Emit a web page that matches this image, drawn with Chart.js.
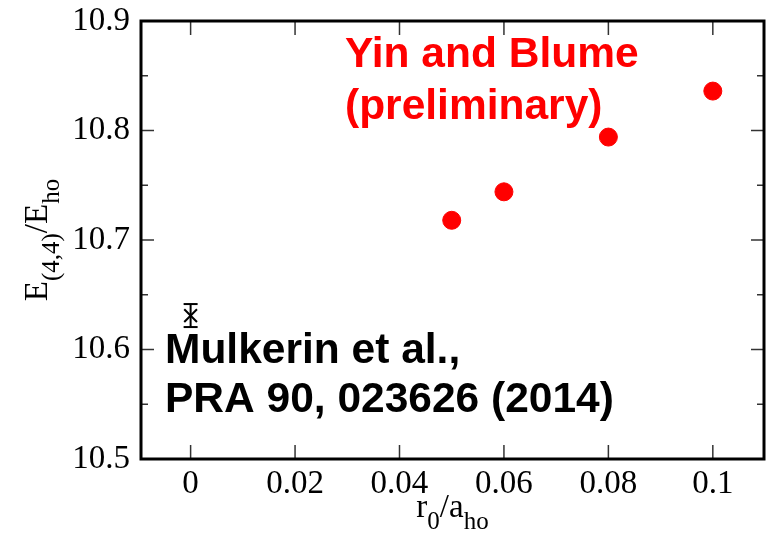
<!DOCTYPE html>
<html>
<head>
<meta charset="utf-8">
<script src="https://cdn.jsdelivr.net/npm/chart.js@4"></script>
<style>
  html, body { margin: 0; padding: 0; background: #fff; }
</style>
</head>
<body>
<canvas id="energyChart" width="766" height="535"></canvas>
<script>
// range r0/aho and the (4,4) energy from the lattice runs
const rangeValues = [0.05, 0.06, 0.08, 0.1];
const energyValues = [10.718, 10.744, 10.794, 10.836];

// zero-range reference point with its error bar
const refRange = [0];
const refEnergy = [10.631];
const refError = [0.0105];

const xTickValues = [0, 0.02, 0.04, 0.06, 0.08, 0.1];
const xTickLabels = ['0', '0.02', '0.04', '0.06', '0.08', '0.1'];
const yTickValues = [10.5, 10.6, 10.7, 10.8, 10.9];
const yTickLabels = ['10.5', '10.6', '10.7', '10.8', '10.9'];
const yMinorValues = [10.55, 10.65, 10.75, 10.85];

const serif = '"Liberation Serif", "Times New Roman", serif';
const sans = '"Liberation Sans", Arial, sans-serif';

function line(ctx, x1, y1, x2, y2) {
    ctx.beginPath();
    ctx.moveTo(x1, y1);
    ctx.lineTo(x2, y2);
    ctx.stroke();
}

// draw text made of normal and subscript parts, centred on (x, y) baseline
function drawRich(ctx, parts, x, y, size, subSize, subDrop) {
    let total = 0;
    parts.forEach(p => {
        ctx.font = (p.sub ? subSize : size) + 'px ' + serif;
        p.w = ctx.measureText(p.t).width;
        total += p.w;
    });
    let cx = x - total / 2;
    ctx.textAlign = 'left';
    ctx.textBaseline = 'alphabetic';
    parts.forEach(p => {
        ctx.font = (p.sub ? subSize : size) + 'px ' + serif;
        ctx.fillText(p.t, cx, y + (p.sub ? subDrop : 0));
        cx += p.w;
    });
}

// keep the plot box where it is, labels may hang over the edges
function fixBox(s) {
    s.paddingTop = 0;
    s.paddingBottom = 0;
    s.paddingLeft = 0;
    s.paddingRight = 0;
}

// box round the plot with inward ticks on all four sides
const frameBox = {
    id: 'frameBox',
    afterDraw(chart) {
        const ctx = chart.ctx, a = chart.chartArea;
        const xs = chart.scales.x, ys = chart.scales.y;
        ctx.save();
        ctx.strokeStyle = '#333';
        ctx.lineWidth = 1.5;
        xTickValues.forEach(v => {
            const px = xs.getPixelForValue(v);
            line(ctx, px, a.bottom, px, a.bottom - 14);
            line(ctx, px, a.top, px, a.top + 14);
        });
        yTickValues.forEach(v => {
            const py = ys.getPixelForValue(v);
            line(ctx, a.left, py, a.left + 13, py);
            line(ctx, a.right, py, a.right - 13, py);
        });
        yMinorValues.forEach(v => {
            const py = ys.getPixelForValue(v);
            line(ctx, a.left, py, a.left + 7, py);
            line(ctx, a.right, py, a.right - 7, py);
        });
        ctx.strokeStyle = '#000';
        ctx.lineWidth = 3;
        ctx.strokeRect(a.left, a.top, a.right - a.left, a.bottom - a.top);
        ctx.restore();
    }
};

// vertical error bars with caps for the reference point
const errorBars = {
    id: 'errorBars',
    afterDatasetsDraw(chart) {
        const ctx = chart.ctx;
        const xs = chart.scales.x, ys = chart.scales.y;
        ctx.save();
        ctx.strokeStyle = '#000';
        ctx.lineWidth = 2;
        refRange.forEach((r, i) => {
            const px = xs.getPixelForValue(r);
            const top = ys.getPixelForValue(refEnergy[i] + refError[i]);
            const bot = ys.getPixelForValue(refEnergy[i] - refError[i]);
            line(ctx, px, top, px, bot);
            line(ctx, px - 7, top, px + 7, top);
            line(ctx, px - 7, bot, px + 7, bot);
        });
        ctx.restore();
    }
};

// axis titles with subscripts and the two source notes
const labels = {
    id: 'labels',
    afterDraw(chart) {
        const ctx = chart.ctx, a = chart.chartArea;
        ctx.save();
        ctx.fillStyle = '#000';
        drawRich(ctx, [
            { t: 'r' }, { t: '0', sub: true }, { t: '/a' }, { t: 'ho', sub: true }
        ], (a.left + a.right) / 2, 517, 33, 25, 12);

        ctx.translate(47, (a.top + a.bottom) / 2);
        ctx.rotate(-Math.PI / 2);
        drawRich(ctx, [
            { t: 'E' }, { t: '(4,4)', sub: true }, { t: '/E' }, { t: 'ho', sub: true }
        ], 0, 0, 33, 25, 12);
        ctx.restore();

        ctx.save();
        ctx.font = 'bold 42.5px ' + sans;
        ctx.textAlign = 'left';
        ctx.textBaseline = 'alphabetic';
        ctx.fillStyle = '#ff0000';
        ctx.fillText('Yin and Blume', 345, 67);
        ctx.fillText('(preliminary)', 345, 119);
        ctx.fillStyle = '#000';
        ctx.fillText('Mulkerin et al.,', 165, 363);
        ctx.fillText('PRA 90, 023626 (2014)', 165, 412);
        ctx.restore();
    }
};

new Chart(document.getElementById('energyChart'), {
    type: 'scatter',
    data: {
        datasets: [
            {
                label: 'Yin and Blume',
                data: rangeValues.map((r, i) => ({ x: r, y: energyValues[i] })),
                backgroundColor: '#ff0000',
                borderColor: '#ff0000',
                pointRadius: 9,
                pointStyle: 'circle'
            },
            {
                label: 'Mulkerin et al.',
                data: refRange.map((r, i) => ({ x: r, y: refEnergy[i] })),
                backgroundColor: '#000',
                borderColor: '#000',
                borderWidth: 2,
                pointRadius: 9,
                pointStyle: 'crossRot'
            }
        ]
    },
    options: {
        responsive: false,
        animation: false,
        devicePixelRatio: 1,
        layout: { autoPadding: false, padding: { top: 21, right: 2, left: 0, bottom: 0 } },
        plugins: {
            legend: { display: false },
            tooltip: { enabled: false }
        },
        scales: {
            x: {
                type: 'linear',
                min: -0.0095,
                max: 0.1098,
                afterBuildTicks: s => { s.ticks = xTickValues.map(v => ({ value: v })); },
                afterFit: s => { s.height = 76; fixBox(s); },
                grid: { display: false, drawTicks: false },
                border: { display: false },
                ticks: {
                    callback: (v, i) => xTickLabels[i],
                    color: '#000',
                    font: { family: serif, size: 33 },
                    maxRotation: 0,
                    autoSkip: false,
                    padding: 6
                }
            },
            y: {
                type: 'linear',
                min: 10.5,
                max: 10.9,
                afterBuildTicks: s => { s.ticks = yTickValues.map(v => ({ value: v })); },
                afterFit: s => { s.width = 141; fixBox(s); },
                grid: { display: false, drawTicks: false },
                border: { display: false },
                ticks: {
                    callback: (v, i) => yTickLabels[i],
                    color: '#000',
                    font: { family: serif, size: 33 },
                    autoSkip: false,
                    padding: 11
                }
            }
        }
    },
    plugins: [frameBox, errorBars, labels]
});
</script>
</body>
</html>
